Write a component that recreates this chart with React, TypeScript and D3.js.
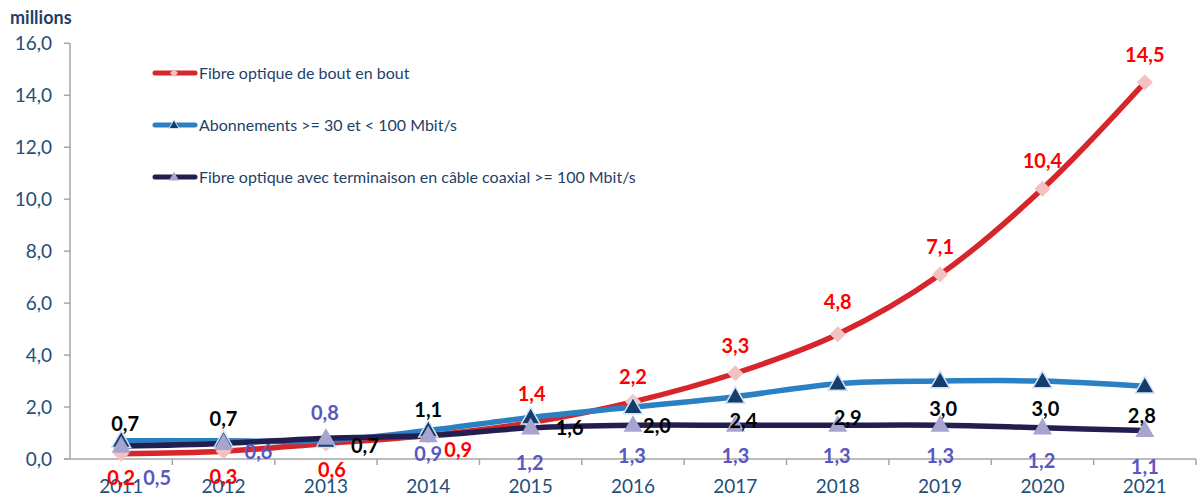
import React from "react";
import * as d3 from "d3";

const years = ["2011","2012","2013","2014","2015","2016","2017","2018","2019","2020","2021"];
const fibreBout = [0.2, 0.3, 0.6, 0.9, 1.4, 2.2, 3.3, 4.8, 7.1, 10.4, 14.5];
const abonnements = [0.7, 0.7, 0.7, 1.1, 1.6, 2.0, 2.4, 2.9, 3.0, 3.0, 2.8];
const fibreCoax = [0.5, 0.6, 0.8, 0.9, 1.2, 1.3, 1.3, 1.3, 1.3, 1.2, 1.1];
const yTicks = [0, 2, 4, 6, 8, 10, 12, 14, 16];
const seriesNames = [
  "Fibre optique de bout en bout",
  "Abonnements >= 30 et < 100 Mbit/s",
  "Fibre optique avec terminaison en câble coaxial >= 100 Mbit/s",
];

// label offsets (dx, dy) relative to the point, style config
const redOff = [[0,24],[0,26],[6,26],[30,14],[1,-29],[0,-25],[0,-27],[0,-32],[0,-28],[0,-28],[0,-27]];
const blackOff = [[4,-17],[0,-22],[39,5],[0,-21],[39,10],[24,19],[8,24],[10,34],[3,28],[3,28],[-3,30]];
const purpleOff = [[36,32],[35,8],[-1,-25],[0,18],[-1,35],[-1,31],[0,31],[-1,31],[0,31],[-1,33],[0,36]];

const fmt = (v: number) => v.toFixed(1).replace(".", ",");
const FONT = "Lato, 'Open Sans', sans-serif";

export default function App() {
  const W = 1200, H = 500;
  const x = d3.scaleBand<string>().domain(years).range([70, 1196]);
  const cx = (i: number) => (x(years[i]) as number) + x.bandwidth() / 2;
  const y = d3.scaleLinear().domain([0, 16]).range([459, 43.3]);

  const line = d3.line<number>()
    .x((_, i) => cx(i))
    .y((d) => y(d))
    .curve(d3.curveCatmullRom.alpha(0.5));

  const diamond = (s: number) => `M0,${-s}L${s},0L0,${s}L${-s},0Z`;
  const tri = (s: number) => `M0,${-s * 1.05}L${s},${s * 0.7}L${-s},${s * 0.7}Z`;

  const series = [
    { data: fibreBout, color: "#d7262b", markFill: "#f4c1c1", markStroke: "none", shape: "d", labelColor: "#ff0000", off: redOff },
    { data: abonnements, color: "#2b80c3", markFill: "#143d6c", markStroke: "#cfe2f3", shape: "t", labelColor: "#000000", off: blackOff },
    { data: fibreCoax, color: "#221f50", markFill: "#a7a4d2", markStroke: "none", shape: "t", labelColor: "#5b57c2", off: purpleOff },
  ];

  const legendY = [73, 125, 177];

  return (
    <svg width={W} height={H} style={{ position: "absolute", left: 0, top: 0, background: "#fff" }}>
      <text x={10} y={24} fontFamily={FONT} fontWeight="bold" fontSize={18} fill="#1f3f68">millions</text>
      {/* y axis */}
      <line x1={70} x2={70} y1={y(16)} y2={y(0)} stroke="#a6a6a6" strokeWidth={1.5} />
      {yTicks.map((t) => (
        <g key={t}>
          <line x1={64} x2={70} y1={y(t)} y2={y(t)} stroke="#a6a6a6" strokeWidth={1.5} />
          <text x={52} y={y(t)} dy="0.36em" textAnchor="end" fontFamily={FONT} fontSize={19} fill="#1f4e79">{fmt(t)}</text>
        </g>
      ))}
      {/* x axis */}
      <line x1={64} x2={1196} y1={y(0)} y2={y(0)} stroke="#a6a6a6" strokeWidth={1.5} />
      {years.map((yr, i) => (
        <g key={yr}>
          <line x1={(x(yr) as number) + x.bandwidth()} x2={(x(yr) as number) + x.bandwidth()} y1={y(0)} y2={y(0) + 6} stroke="#a6a6a6" strokeWidth={1.5} />
          <text x={cx(i)} y={493} textAnchor="middle" fontFamily={FONT} fontSize={19} fill="#1f4e79">{yr}</text>
        </g>
      ))}
      {/* lines */}
      {series.map((s, k) => (
        <path key={"l" + k} d={line(s.data) as string} fill="none" stroke={s.color} strokeWidth={5.5} strokeLinecap="round" />
      ))}
      {/* markers */}
      {series.map((s, k) => (
        <g key={"m" + k}>
          {s.data.map((v, i) => (
            <path key={i} transform={`translate(${cx(i)},${y(v)})`} d={s.shape === "d" ? diamond(8) : tri(9.5)}
              fill={s.markFill} stroke={s.markStroke} strokeWidth={s.markStroke === "none" ? 0 : 1.5} />
          ))}
        </g>
      ))}
      {/* labels */}
      {series.map((s, k) => (
        <g key={"t" + k}>
          {s.data.map((v, i) => (
            <text key={i} x={cx(i) + s.off[i][0]} y={y(v) + s.off[i][1]} dy="0.36em" textAnchor="middle"
              fontFamily={FONT} fontWeight="bold" fontSize={20} fill={s.labelColor}>{fmt(v)}</text>
          ))}
        </g>
      ))}
      {/* legend */}
      {series.map((s, k) => (
        <g key={"lg" + k} transform={`translate(0,${legendY[k]})`}>
          <line x1={155} x2={195} y1={0} y2={0} stroke={s.color} strokeWidth={5} strokeLinecap="round" />
          <path transform="translate(174,0)" d={s.shape === "d" ? diamond(4) : tri(5)} fill={s.markFill}
            stroke={s.markStroke} strokeWidth={s.markStroke === "none" ? 0 : 1} />
          <text x={199} y={0} dy="0.36em" fontFamily={FONT} fontSize={16} fill="#1f3f68">{seriesNames[k]}</text>
        </g>
      ))}
    </svg>
  );
}
